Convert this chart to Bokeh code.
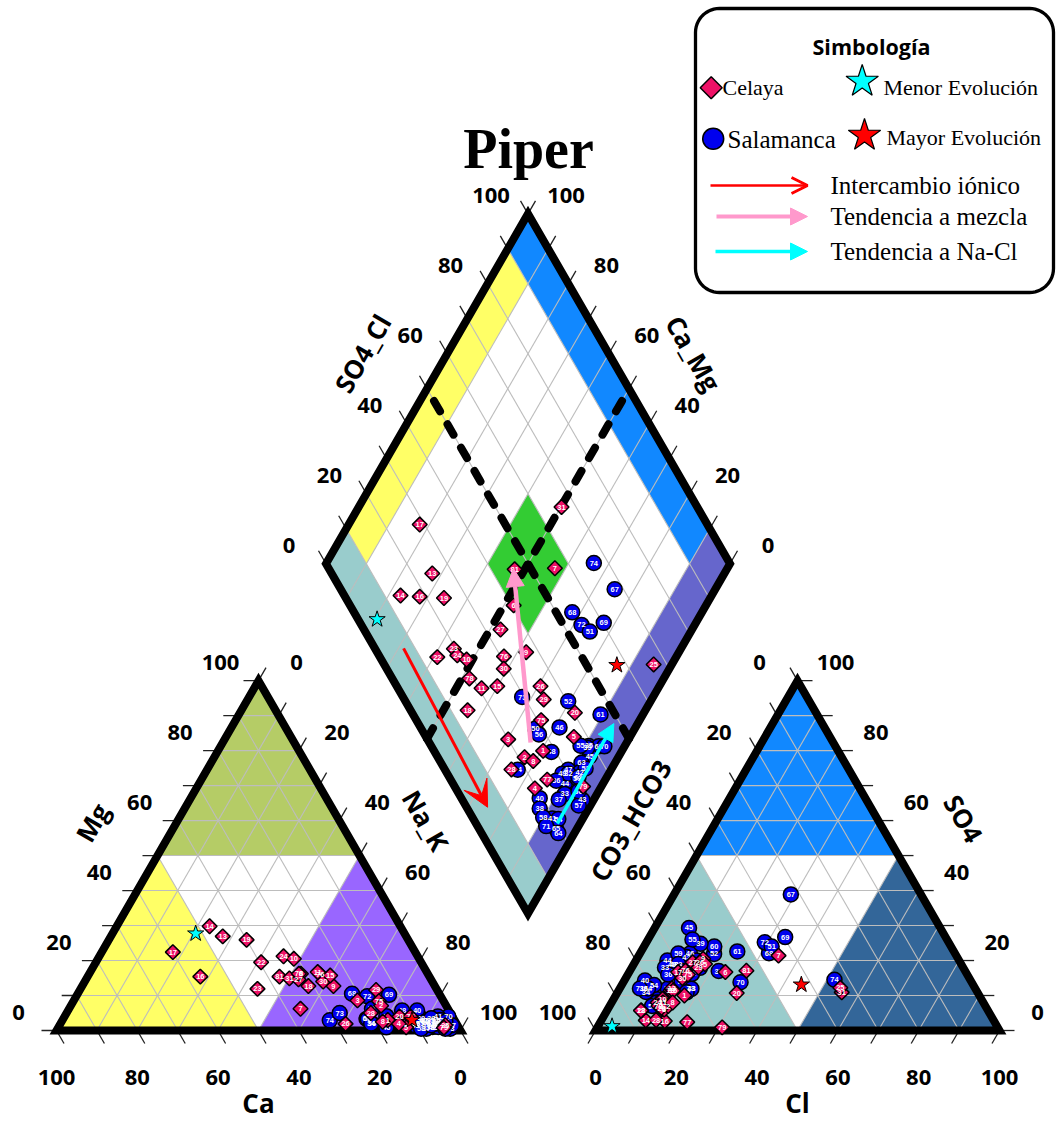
import numpy as np
from bokeh.plotting import figure
from bokeh.models import Range1d, Arrow, NormalHead, VeeHead, OpenHead
from bokeh.core.properties import value
from bokeh.embed import file_html
from bokeh.resources import INLINE

# ---------------- sample data (percent of meq) ----------------
celaya_id = ["17", "14", "16", "19", "13", "81", "7", "31", "6", "27", "9", "22",
             "23", "24", "10", "76", "30", "78", "11", "15", "18", "26", "29", "75",
             "20", "5", "3", "1", "2", "8", "28", "77", "4", "25", "79"]
celaya_mg = [22.4, 29.8, 15.4, 25.9, 26.9, 15.4, 6.2, 14.9, 16.2, 14.6, 12.7, 19.5,
             11.9, 21.2, 20.5, 16.0, 14.0, 16.2, 16.7, 15.7, 12.7, 1.9, 11.6, 8.4,
             4.0, 0.9, 8.6, 3.0, 7.1, 2.5, 5.0, 4.0, 1.9, 1.5, 0.8]
celaya_nak = [17.6, 23.0, 27.9, 34.1, 27.7, 47.5, 57.3, 50.2, 52.4, 52.6, 62.2, 40.9,
              43.8, 45.6, 48.5, 57.3, 59.0, 51.9, 56.3, 59.9, 56.0, 70.6, 73.3, 75.6,
              82.9, 86.1, 70.2, 80.5, 76.8, 79.5, 75.3, 85.6, 83.8, 95.5, 95.5]
celaya_so4 = [16.7, 2.9, 2.7, 11.4, 12.0, 17.1, 21.4, 10.9, 16.7, 19.5, 20.5, 5.7,
              6.2, 8.0, 9.0, 17.1, 15.0, 7.0, 8.0, 11.4, 5.7, 19.5, 18.0, 16.0,
              10.7, 19.0, 6.0, 10.0, 7.0, 8.0, 3.0, 2.4, 6.5, 12.2, 0.9]
celaya_cl = [12.1, 11.0, 15.8, 12.9, 12.9, 28.8, 34.6, 55.5, 23.8, 14.3, 16.4, 8.5,
             13.3, 11.4, 12.1, 13.7, 14.0, 12.1, 12.7, 13.5, 8.4, 16.1, 16.5, 14.9,
             29.6, 17.6, 14.0, 17.0, 14.5, 15.1, 13.5, 21.5, 13.1, 54.5, 30.9]

salamanca_id = ["74", "67", "68", "72", "51", "69", "73", "52", "61", "46", "50", "56",
                "48", "35", "60", "70", "45", "63", "47", "49", "42", "44", "59", "33",
                "37", "43", "57", "40", "38", "41", "65", "34", "53", "32", "36", "39",
                "54", "55", "58", "62", "64", "66", "71"]
salamanca_mg = [2.9, 3.3, 10.5, 9.8, 6.2, 10.2, 5.0, 4.1, 3.0, 0.9, 3.3, 2.0,
                5.7, 3.0, 2.0, 4.0, 1.5, 2.0, 3.0, 3.5, 1.0, 2.0, 2.5, 1.0,
                0.5, 0.5, 1.5, 5.7, 2.0, 4.0, 1.0, 2.0, 3.0, 2.5, 1.5, 3.5,
                1.0, 2.0, 0.5, 2.0, 0.5, 2.5, 1.5]
salamanca_nak = [66.2, 75.1, 67.9, 72.0, 75.0, 77.2, 67.6, 79.6, 89.5, 81.2, 75.4, 77.1,
                 82.7, 91.1, 93.6, 95.0, 92.8, 91.7, 89.4, 88.5, 92.6, 90.5, 92.9, 92.0,
                 91.3, 97.2, 97.1, 86.4, 87.9, 92.4, 94.8, 76.9, 93.5, 90.0, 88.0, 91.0,
                 94.0, 89.0, 90.0, 93.0, 96.0, 95.0, 92.0]
salamanca_so4 = [14.5, 38.9, 22.1, 25.2, 24.0, 26.7, 11.9, 21.9, 22.6, 22.0, 14.0, 17.0,
                 19.0, 17.0, 24.0, 13.8, 29.3, 17.9, 18.0, 19.0, 21.0, 20.0, 22.0, 18.0,
                 12.0, 11.9, 10.9, 14.3, 12.0, 9.0, 8.0, 11.0, 20.0, 19.0, 16.0, 24.8,
                 13.0, 26.0, 7.0, 16.2, 12.0, 17.0, 12.0]
salamanca_cl = [51.9, 28.9, 31.9, 29.3, 31.6, 33.6, 17.6, 18.4, 23.8, 12.4, 14.3, 11.3,
                9.9, 22.0, 17.4, 29.0, 8.5, 16.9, 12.5, 9.5, 12.0, 7.8, 9.5, 8.2,
                11.9, 17.8, 17.1, 5.1, 5.9, 10.6, 11.1, 7.0, 15.0, 11.0, 10.0, 13.6,
                8.0, 11.0, 10.5, 15.8, 7.0, 13.0, 5.0]

# end members: Mg, Na+K, SO4, Cl
menor_mg, menor_nak, menor_so4, menor_cl = [27.7], [20.6], [1.2], [3.5]
mayor_mg, mayor_nak, mayor_so4, mayor_cl = [3.0], [86.5], [13.1], [44.4]

# trend arrows in the diamond: (Ca+Mg %, SO4+Cl %) at tail and head
trend_names = ["Intercambio iónico", "Tendencia a mezcla", "Tendencia a Na-Cl"]
trend_colors = ["#FF0000", "#FF99CC", "#00FFFF"]
trend_camg_start = [68.7, 23.8, 5.6]
trend_so4cl_start = [7.1, 25.1, 20.1]
trend_camg_end = [25.2, 52.9, 5.9]
trend_so4cl_end = [5.2, 45.7, 48.4]

tick_values = [0, 20, 40, 60, 80, 100]
tick_labels = ["0", "20", "40", "60", "80", "100"]

# ---------------- layout geometry ----------------
W, H = 1058, 1122
SQ3 = np.sqrt(3.0)
SIDE = 404.0
HT = SIDE * SQ3 / 2
GAP = 135.0
BASE_Y = H - 1030.0
CAT_X0 = 56.0
AN_X0 = CAT_X0 + SIDE + GAP
DIA_X0 = CAT_X0 + SIDE + GAP / 2
DIA_Y0 = BASE_Y + GAP / 2 * SQ3


def cation_xy(mg, nak):
    mg = np.asarray(mg, float) / 100
    nak = np.asarray(nak, float) / 100
    return CAT_X0 + SIDE * (nak + mg / 2), BASE_Y + HT * mg


def anion_xy(so4, cl):
    so4 = np.asarray(so4, float) / 100
    cl = np.asarray(cl, float) / 100
    return AN_X0 + SIDE * (cl + so4 / 2), BASE_Y + HT * so4


def diamond_xy(camg, so4cl):
    u = np.asarray(camg, float) / 100
    v = np.asarray(so4cl, float) / 100
    return DIA_X0 + SIDE * (v - u) / 2, DIA_Y0 + HT * (u + v)


def diamond_of(mg, nak, so4, cl):
    return diamond_xy(100 - np.asarray(nak, float), np.asarray(so4, float) + np.asarray(cl, float))


p = figure(width=W, height=H, x_range=Range1d(0, W), y_range=Range1d(0, H),
           output_backend="svg", toolbar_location=None, min_border=0,
           x_axis_location=None, y_axis_location=None)
p.grid.visible = False
p.outline_line_color = None
p.background_fill_color = "white"
p.border_fill_color = "white"

# ---------------- coloured fields ----------------
def patch_from(fn, pts, color):
    a = np.array(pts, float)
    xs, ys = fn(a[:, 0], a[:, 1])
    p.patch(list(xs), list(ys), fill_color=color, line_color=None)


# cation triangle (Mg, Na+K)
patch_from(cation_xy, [(0, 0), (0, 50), (50, 0)], "#FFFF66")
patch_from(cation_xy, [(50, 0), (50, 50), (100, 0)], "#B5CC66")
patch_from(cation_xy, [(0, 50), (0, 100), (50, 50)], "#9966FF")
# anion triangle (SO4, Cl)
patch_from(anion_xy, [(0, 0), (0, 50), (50, 0)], "#99CCCC")
patch_from(anion_xy, [(50, 0), (50, 50), (100, 0)], "#1188FF")
patch_from(anion_xy, [(0, 50), (0, 100), (50, 50)], "#336699")


def dia_box(u0, u1, v0, v1, color):
    patch_from(diamond_xy, [(u0, v0), (u1, v0), (u1, v1), (u0, v1)], color)


dia_box(0, 100, 0, 10, "#99CCCC")
dia_box(90, 100, 10, 90, "#FFFF66")
dia_box(10, 100, 90, 100, "#1188FF")
dia_box(0, 10, 10, 100, "#6666CC")
dia_box(40, 60, 40, 60, "#33CC33")

# ---------------- grid (10 %) ----------------
gx, gy = [], []
for k in range(10, 100, 10):
    for fn, a, b in [
        (cation_xy, (k, 0), (k, 100 - k)),          # Mg const
        (cation_xy, (0, k), (100 - k, k)),          # Na+K const
        (cation_xy, (0, 100 - k), (100 - k, 0)),    # Ca const
        (anion_xy, (k, 0), (k, 100 - k)),
        (anion_xy, (0, k), (100 - k, k)),
        (anion_xy, (0, 100 - k), (100 - k, 0)),
        (diamond_xy, (k, 0), (k, 100)),
        (diamond_xy, (0, k), (100, k)),
    ]:
        xa, ya = fn(a[0], a[1])
        xb, yb = fn(b[0], b[1])
        gx.append([float(xa), float(xb)])
        gy.append([float(ya), float(yb)])
p.multi_line(gx, gy, line_color="#BDBDBD", line_width=1.1)

# 50 % dividing lines of the diamond
for a, b in [((50, 0), (50, 100)), ((0, 50), (100, 50))]:
    xs, ys = diamond_xy([a[0], b[0]], [a[1], b[1]])
    p.line(list(xs), list(ys), line_color="black", line_width=8,
           line_dash="12 15", line_cap="round")

# ---------------- ticks ----------------
TL = 15.0
tx, ty = [], []


def add_ticks(points, direction):
    dx, dy = direction
    for x0, y0 in points:
        tx.append([x0, x0 + TL * dx])
        ty.append([y0, y0 + TL * dy])


steps = np.arange(0, 101, 10)
add_ticks([(float(a), float(b)) for a, b in zip(*cation_xy(0 * steps, steps))], (0.5, -SQ3 / 2))
add_ticks([(float(a), float(b)) for a, b in zip(*cation_xy(steps, 0 * steps))], (-1, 0))
add_ticks([(float(a), float(b)) for a, b in zip(*cation_xy(100 - steps, steps))], (0.5, SQ3 / 2))
add_ticks([(float(a), float(b)) for a, b in zip(*anion_xy(0 * steps, steps))], (-0.5, -SQ3 / 2))
add_ticks([(float(a), float(b)) for a, b in zip(*anion_xy(steps, 0 * steps))], (-0.5, SQ3 / 2))
add_ticks([(float(a), float(b)) for a, b in zip(*anion_xy(steps, 100 - steps))], (1, 0))
add_ticks([(float(a), float(b)) for a, b in zip(*diamond_xy(100 + 0 * steps, steps))], (-0.5, SQ3 / 2))
add_ticks([(float(a), float(b)) for a, b in zip(*diamond_xy(steps, 100 + 0 * steps))], (0.5, SQ3 / 2))
p.multi_line(tx, ty, line_color="#222222", line_width=1.3)

# ---------------- outlines ----------------
for fn, pts in [(cation_xy, [(0, 0), (0, 100), (100, 0)]),
                (anion_xy, [(0, 0), (0, 100), (100, 0)]),
                (diamond_xy, [(0, 0), (100, 0), (100, 100), (0, 100)])]:
    a = np.array(pts, float)
    xs, ys = fn(a[:, 0], a[:, 1])
    p.patch(list(xs), list(ys), fill_color=None, line_color="black",
            line_width=8, line_join="miter")

# ---------------- tick labels ----------------
TICK_FONT = value("Open Sans")


def labels(xs, ys, texts, dx, dy):
    p.text(x=[float(v) + dx for v in xs], y=[float(v) + dy for v in ys], text=texts,
           text_font=TICK_FONT, text_font_size=value("22px"), text_font_style="bold",
           text_color="black", text_align="center", text_baseline="middle")


tv = np.array(tick_values, float)
# cation: Ca along base (100 at left), Mg on left side, Na_K on right side
cx, cy = cation_xy(0 * tv, 100 - tv)
labels(cx, cy, tick_labels, 0, -47)
cx, cy = cation_xy(tv, 0 * tv)
labels(cx, cy, tick_labels, -38, 18)
cx, cy = cation_xy(100 - tv, tv)
labels(cx, cy, tick_labels, 38, 18)
# anion: Cl along base, CO3_HCO3 on left side (100 at bottom), SO4 on right side
ax_, ay_ = anion_xy(0 * tv, tv)
labels(ax_, ay_, tick_labels, 0, -47)
ax_, ay_ = anion_xy(100 - tv, 0 * tv)
labels(ax_, ay_, tick_labels, -38, 18)
ax_, ay_ = anion_xy(tv, 100 - tv)
labels(ax_, ay_, tick_labels, 38, 18)
# diamond: SO4_Cl on upper-left edge, Ca_Mg on upper-right edge
dx_, dy_ = diamond_xy(100 + 0 * tv, tv)
labels(dx_, dy_, tick_labels, -37, 18)
dx_, dy_ = diamond_xy(tv, 100 + 0 * tv)
labels(dx_, dy_, tick_labels, 38, 18)

# ---------------- axis titles ----------------
def title(x, y, txt, angle=0.0, size=26):
    p.text(x=[x], y=[y], text=[txt], angle=angle, text_font=TICK_FONT,
           text_font_size=value(f"{size}px"), text_font_style="bold",
           text_color="black", text_align="center", text_baseline="middle")


title(92, H - 822, "Mg", np.pi / 3)
title(425, H - 820, "Na_K", -np.pi / 3)
title(258, H - 1102, "Ca")
title(630, H - 820, "CO3_HCO3", np.pi / 3)
title(963, H - 818, "SO4", -np.pi / 3)
title(797, H - 1102, "Cl")
title(362, H - 353, "SO4_Cl", np.pi / 3)
title(693, H - 353, "Ca_Mg", -np.pi / 3)

# ---------------- samples ----------------
PINK, BLUE = "#EE1166", "#0000EE"
LABEL_FONT = value("Liberation Sans")


def samples(mg, nak, so4, cl, ids, kind):
    pos = [cation_xy(mg, nak), anion_xy(so4, cl), diamond_of(mg, nak, so4, cl)]
    for xs, ys in pos:
        xs, ys = list(map(float, xs)), list(map(float, ys))
        if kind == "circle":
            p.scatter(xs, ys, marker="circle", size=15, fill_color=BLUE,
                      line_color="black", line_width=1.5)
        else:
            p.scatter(xs, ys, marker="square", angle=np.pi / 4, size=10.5,
                      fill_color=PINK, line_color="black", line_width=1.5)
        p.text(x=xs, y=ys, text=ids, text_font=LABEL_FONT,
               text_font_size=value("7.5px"), text_font_style="bold",
               text_color="white", text_align="center", text_baseline="middle")


samples(salamanca_mg, salamanca_nak, salamanca_so4, salamanca_cl, salamanca_id, "circle")
samples(celaya_mg, celaya_nak, celaya_so4, celaya_cl, celaya_id, "diamond")

for mg, nak, so4, cl, col in [(menor_mg, menor_nak, menor_so4, menor_cl, "#00FFFF"),
                              (mayor_mg, mayor_nak, mayor_so4, mayor_cl, "#FF0000")]:
    for xs, ys in [cation_xy(mg, nak), anion_xy(so4, cl), diamond_of(mg, nak, so4, cl)]:
        p.scatter(list(map(float, xs)), list(map(float, ys)), marker="star", size=17,
                  fill_color=col, line_color="black", line_width=1)

# ---------------- trend arrows ----------------
heads = [VeeHead(size=26, fill_color="#FF0000", line_color="#FF0000"),
         NormalHead(size=18, fill_color="#FF99CC", line_color="#FF99CC"),
         NormalHead(size=17, fill_color="#00FFFF", line_color="#00FFFF")]
widths = [3, 4.5, 3.5]
xs0, ys0 = diamond_xy(trend_camg_start, trend_so4cl_start)
xs1, ys1 = diamond_xy(trend_camg_end, trend_so4cl_end)
for i in range(3):
    p.add_layout(Arrow(end=heads[i], x_start=float(xs0[i]), y_start=float(ys0[i]),
                       x_end=float(xs1[i]), y_end=float(ys1[i]),
                       line_color=trend_colors[i], line_width=widths[i]))

# ---------------- title ----------------
p.text(x=[528], y=[H - 148], text=["Piper"], text_font=value("Liberation Serif"),
       text_font_size=value("56px"), text_font_style="bold", text_color="black",
       text_align="center", text_baseline="middle")

# ---------------- legend box ----------------
def rounded_rect(x0, y0, x1, y1, r, n=14):
    xs, ys = [], []
    for cx, cy, a0 in [(x1 - r, y1 - r, 0), (x0 + r, y1 - r, 90),
                       (x0 + r, y0 + r, 180), (x1 - r, y0 + r, 270)]:
        for a in np.linspace(np.radians(a0), np.radians(a0 + 90), n):
            xs.append(cx + r * np.cos(a))
            ys.append(cy + r * np.sin(a))
    return xs, ys


bx, by = rounded_rect(695, H - 292, 1053, H - 8, 24)
p.patch(bx, by, fill_color="white", line_color="black", line_width=3.3)

SERIF = value("Liberation Serif")


def ltext(x, py, txt, size):
    p.text(x=[x], y=[H - py], text=[txt], text_font=SERIF,
           text_font_size=value(f"{size}px"), text_color="black",
           text_align="left", text_baseline="middle")


p.text(x=[871], y=[H - 46], text=["Simbología"], text_font=TICK_FONT,
       text_font_size=value("21.5px"), text_font_style="bold", text_color="black",
       text_align="center", text_baseline="middle")
p.scatter([710.7], [H - 87.3], marker="square", angle=np.pi / 4, size=15.5,
          fill_color=PINK, line_color="black", line_width=1.5)
ltext(722, 87, "Celaya", 22)
p.scatter([861.7], [H - 81], marker="star", size=34, fill_color="#00FFFF",
          line_color="black", line_width=1.2)
ltext(883, 87, "Menor Evolución", 22)
p.scatter([712.7], [H - 138.3], marker="circle", size=21, fill_color=BLUE,
          line_color="black", line_width=1.5)
ltext(727, 139, "Salamanca", 25)
p.scatter([864], [H - 135], marker="star", size=34, fill_color="#FF0000",
          line_color="black", line_width=1.2)
ltext(886, 137, "Mayor Evolución", 22)

leg_heads = [OpenHead(size=16, line_color="#FF0000", line_width=3),
             NormalHead(size=17, fill_color="#FF99CC", line_color="#FF99CC"),
             NormalHead(size=17, fill_color="#00FFFF", line_color="#00FFFF")]
leg_y = [185, 216, 251]
leg_x0 = [710, 716, 715]
for i in range(3):
    p.add_layout(Arrow(end=leg_heads[i], x_start=leg_x0[i], y_start=H - leg_y[i],
                       x_end=807, y_end=H - leg_y[i],
                       line_color=trend_colors[i], line_width=[2.5, 4, 3.5][i]))
    ltext(830, leg_y[i], trend_names[i], 25)

open("out.html", "w").write(file_html(p, INLINE))
